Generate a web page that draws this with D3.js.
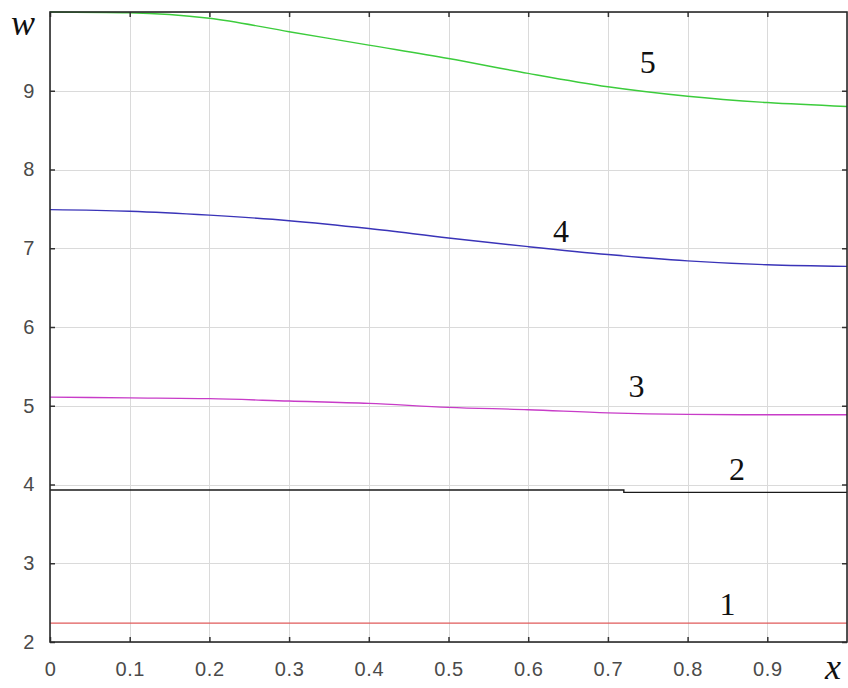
<!DOCTYPE html>
<html>
<head>
<meta charset="utf-8">
<script src="https://cdn.jsdelivr.net/npm/d3@7"></script>
<style>
  html, body { margin: 0; padding: 0; background: #fff; }
  svg { display: block; }
</style>
</head>
<body>
<svg id="chart" width="848" height="688"></svg>
<script>
// Sample positions along x
const xs = [0, 0.1, 0.2, 0.3, 0.4, 0.5, 0.6, 0.7, 0.8, 0.9, 1.0];

// Curve values w(x)
const w1 = [2.24, 2.24, 2.24, 2.24, 2.24, 2.24, 2.24, 2.24, 2.24, 2.24, 2.24];
const x2 = [0, 0.72, 1.0];
const w2 = [3.93, 3.90, 3.90];
const w3 = [5.11, 5.10, 5.09, 5.06, 5.03, 4.98, 4.95, 4.91, 4.89, 4.885, 4.885];
const w4 = [7.49, 7.47, 7.42, 7.35, 7.25, 7.13, 7.02, 6.92, 6.84, 6.79, 6.77];
const w5 = [10.0, 9.99, 9.92, 9.75, 9.58, 9.41, 9.22, 9.05, 8.93, 8.85, 8.80];

// Curve labels: text and position in data units
const labelText = ["1", "2", "3", "4", "5"];
const labelX = [0.85, 0.862, 0.736, 0.641, 0.75];
const labelY = [2.34, 4.06, 5.11, 7.08, 9.23];

// Ticks
const xTicks = [0, 0.1, 0.2, 0.3, 0.4, 0.5, 0.6, 0.7, 0.8, 0.9];
const xTickLabels = ["0", "0.1", "0.2", "0.3", "0.4", "0.5", "0.6", "0.7", "0.8", "0.9"];
const yTicks = [2, 3, 4, 5, 6, 7, 8, 9];
const yTickLabels = ["2", "3", "4", "5", "6", "7", "8", "9"];

const svg = d3.select("#chart");
const plotL = 50, plotR = 847, plotT = 12, plotB = 642;

const x = d3.scaleLinear().domain([0, 1]).range([plotL, plotR]);
const y = d3.scaleLinear().domain([2, 10]).range([plotB, plotT]);

// Grid
const grid = svg.append("g").attr("stroke", "#dadada").attr("stroke-width", 1);
xTicks.concat([1]).forEach(t => {
  grid.append("line").attr("x1", Math.round(x(t)) + 0.5).attr("x2", Math.round(x(t)) + 0.5)
    .attr("y1", plotT).attr("y2", plotB);
});
yTicks.concat([10]).forEach(t => {
  grid.append("line").attr("y1", Math.round(y(t)) + 0.5).attr("y2", Math.round(y(t)) + 0.5)
    .attr("x1", plotL).attr("x2", plotR);
});

// Curves
const line = d3.line().x(d => x(d[0])).y(d => y(d[1])).curve(d3.curveMonotoneX);
const stepLine = d3.line().x(d => x(d[0])).y(d => y(d[1])).curve(d3.curveStepAfter);

const curves = [
  { pts: xs.map((v, i) => [v, w1[i]]), color: "#e05a5a", gen: line },
  { pts: x2.map((v, i) => [v, w2[i]]), color: "#1a1a1a", gen: stepLine },
  { pts: xs.map((v, i) => [v, w3[i]]), color: "#c83cc8", gen: line },
  { pts: xs.map((v, i) => [v, w4[i]]), color: "#3a34b8", gen: line },
  { pts: xs.map((v, i) => [v, w5[i]]), color: "#3ccc3c", gen: line }
];

svg.append("g").selectAll("path").data(curves).join("path")
  .attr("d", d => d.gen(d.pts))
  .attr("fill", "none")
  .attr("stroke", d => d.color)
  .attr("stroke-width", 1.4);

// Axes with inward ticks on all four sides
const axB = d3.axisBottom(x).tickValues(xTicks).tickSize(-5).tickFormat((d, i) => xTickLabels[i]).tickPadding(20);
const axT = d3.axisTop(x).tickValues(xTicks).tickSize(-5).tickFormat("");
const axL = d3.axisLeft(y).tickValues(yTicks).tickSize(-5).tickFormat((d, i) => yTickLabels[i]).tickPadding(15);
const axR = d3.axisRight(y).tickValues(yTicks).tickSize(-5).tickFormat("");

function styleAxis(g) {
  g.select(".domain").remove();
  g.selectAll(".tick line").attr("stroke", "#333").attr("stroke-width", 1.5);
  g.selectAll(".tick text")
    .attr("fill", "#4a4a4a")
    .style("font-family", "'Liberation Sans', Arial, sans-serif")
    .style("font-size", "20px")
    .style("letter-spacing", "0.6px");
}

svg.append("g").attr("transform", `translate(0,${plotB})`).call(axB).call(styleAxis);
svg.append("g").attr("transform", `translate(0,${plotT})`).call(axT).call(styleAxis);
svg.append("g").attr("transform", `translate(${plotL},0)`).call(axL).call(styleAxis);
svg.append("g").attr("transform", `translate(${plotR},0)`).call(axR).call(styleAxis);

// Frame
svg.append("rect")
  .attr("x", plotL).attr("y", plotT)
  .attr("width", plotR - plotL).attr("height", plotB - plotT)
  .attr("fill", "none").attr("stroke", "#2a2a2a").attr("stroke-width", 1.6);

// Curve number labels
svg.append("g").selectAll("text").data(labelText).join("text")
  .attr("x", (d, i) => x(labelX[i]))
  .attr("y", (d, i) => y(labelY[i]))
  .attr("text-anchor", "middle")
  .style("font-family", "'Liberation Serif', 'Times New Roman', serif")
  .style("font-size", "32px")
  .attr("fill", "#111")
  .text(d => d);

// Axis names
svg.append("text")
  .attr("x", 23).attr("y", 35)
  .attr("text-anchor", "middle")
  .style("font-family", "'Liberation Serif', 'Times New Roman', serif")
  .style("font-style", "italic")
  .style("font-size", "36px")
  .attr("fill", "#111")
  .text("w");

svg.append("text")
  .attr("x", 833).attr("y", 679)
  .attr("text-anchor", "middle")
  .style("font-family", "'Liberation Serif', 'Times New Roman', serif")
  .style("font-style", "italic")
  .style("font-size", "36px")
  .attr("fill", "#111")
  .text("x");
</script>
</body>
</html>
